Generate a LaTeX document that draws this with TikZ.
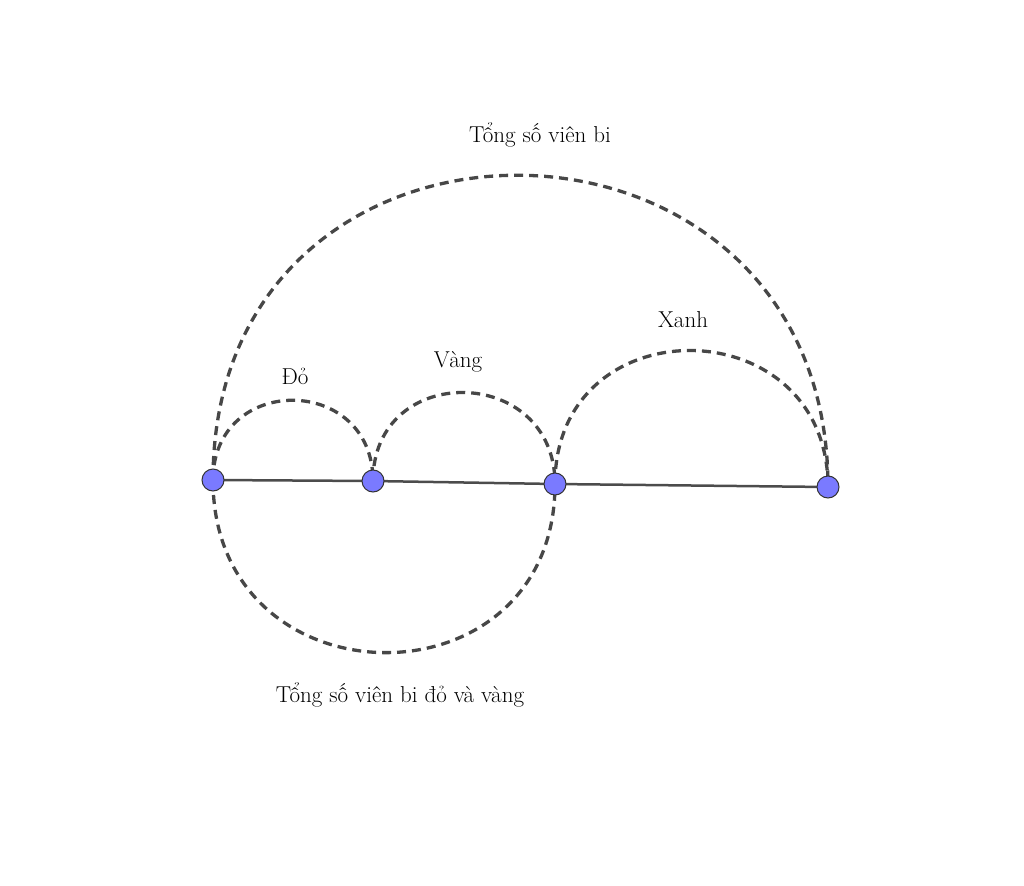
\documentclass[tikz,border=0pt]{standalone}
\usepackage{fontspec}
\setmainfont{Latin Modern Roman}
\begin{document}
\begin{tikzpicture}[x=1pt,y=-1pt,
  arcd/.style={draw=black!72,line width=3.3pt,dash pattern=on 9pt off 6pt},
  pt/.style={circle,draw=black!80,fill={rgb,255:red,122;green,122;blue,255},line width=1pt,minimum size=22pt,inner sep=0pt},
  lbl/.style={font=\fontsize{23}{27}\selectfont}]
\useasboundingbox (0,0) rectangle (1024,885);
\coordinate (A) at (213,480);
\coordinate (B) at (373,481);
\coordinate (C) at (555,484);
\coordinate (D) at (828,487);
\draw[line width=2.5pt,black!70] (A) -- (B) -- (C) -- (D);
\draw[arcd] (A) .. controls (213,373) and (373,374) .. (B);
\draw[arcd] (B) .. controls (373,361) and (555,364) .. (C);
\draw[arcd] (C) .. controls (555,304) and (828,307) .. (D);
\draw[arcd] (A) .. controls (213,70) and (828,75) .. (D);
\draw[arcd] (A) .. controls (213,708) and (555,711) .. (C);
\node[pt] (pA) at (A) {};
\node[pt] (pB) at (B) {};
\node[pt] (pC) at (C) {};
\node[pt] (pD) at (D) {};
\node[lbl] (t1) at (540,135) {Tổng số viên bi};
\node[lbl] (t2) at (295,376) {Đỏ};
\node[lbl] (t3) at (458,362) {Vàng};
\node[lbl] (t4) at (683,320) {Xanh};
\node[lbl] (t5) at (400,695) {Tổng số viên bi đỏ và vàng};
\end{tikzpicture}
\end{document}
